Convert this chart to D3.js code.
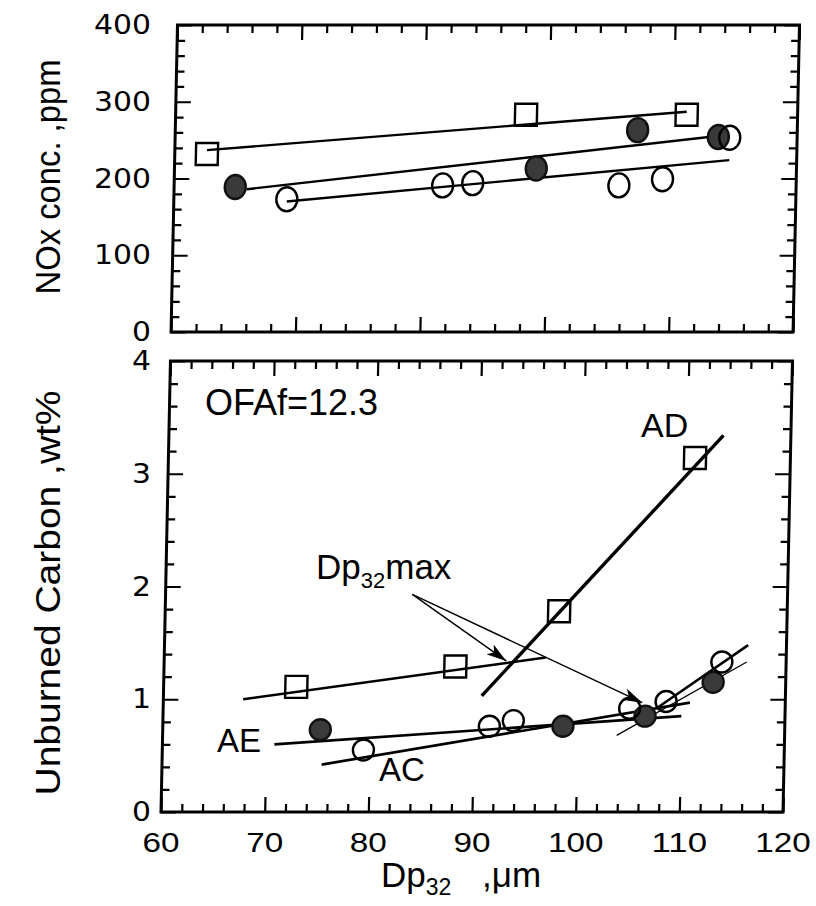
<!DOCTYPE html>
<html>
<head>
<meta charset="utf-8">
<script src="https://cdn.jsdelivr.net/npm/d3@7"></script>
<style>
  body { margin: 0; background: #fff; }
  svg { display: block; }
  text { font-family: "Liberation Sans", Arial, sans-serif; fill: #000; }
</style>
</head>
<body>
<div id="chart"></div>
<script>
// ---- values ----
// top panel: NOx conc., ppm
const noxSquareDp = [63.1, 93.8, 109.3];
const noxSquare = [232, 283, 283];
const noxFilledDp = [65.9, 94.9, 104.6, 112.4];
const noxFilled = [189, 213, 263, 254];
const noxOpenDp = [70.9, 85.9, 88.8, 102.9, 107.1, 113.5];
const noxOpen = [173, 191, 194, 191, 199, 253];
const noxFits = [
  [[63.1, 237], [109.3, 287]],
  [[67.0, 186], [113.4, 257]],
  [[70.9, 170], [113.5, 224]]
];

// bottom panel: unburned carbon, wt%
const adDp = [72.8, 88.1, 98.0, 110.8];
const adUc = [1.11, 1.29, 1.78, 3.14];
const aeDp = [75.2, 98.6, 106.5, 113.0];
const aeUc = [0.73, 0.76, 0.85, 1.15];
const acDp = [79.4, 91.5, 93.8, 105.0, 108.5, 113.8];
const acUc = [0.55, 0.76, 0.81, 0.92, 0.98, 1.33];
const ucFits = [
  {a: [67.7, 1.00], b: [96.8, 1.37], w: 2.6},   // AD, below max
  {a: [90.7, 1.03], b: [113.5, 3.34], w: 3.4},  // AD, above max
  {a: [70.8, 0.60], b: [110.0, 0.85], w: 2.6},  // AE
  {a: [75.4, 0.42], b: [110.8, 0.97], w: 2.6},  // AC
  {a: [103.8, 0.68], b: [116.2, 1.33], w: 1.3}, // AE, above max
  {a: [107.6, 0.92], b: [116.3, 1.48], w: 2.6}  // AC, above max
];
const maxFrom = [83.8, 1.93];
const maxTo = [[93.0, 1.34], [106.2, 0.97]];

const dpTicks = [60, 70, 80, 90, 100, 110, 120];
const noxXTicks = [60, 72, 84, 96, 108, 120];  // top frame is ticked on its own spacing
const noxTicks = [0, 100, 200, 300, 400];
const ucTicks = [0, 1, 2, 3, 4];

function minors(major) {
  const out = [];
  for (let i = 0; i < major.length - 1; i++) {
    const step = (major[i + 1] - major[i]) / 5;
    for (let k = 1; k < 5; k++) out.push(major[i] + k * step);
  }
  return out;
}

const x = d3.scaleLinear().domain([60, 120]).range([161, 783]);
const yNox = d3.scaleLinear().domain([0, 400]).range([332, 25]);
const yUc = d3.scaleLinear().domain([0, 4]).range([812, 361]);

const svg = d3.select("#chart").append("svg")
  .attr("width", 816)
  .attr("height", 906);

svg.append("defs").append("marker")
  .attr("id", "head")
  .attr("markerUnits", "userSpaceOnUse")
  .attr("markerWidth", 22).attr("markerHeight", 12)
  .attr("refX", 20).attr("refY", 6)
  .attr("orient", "auto")
  .append("path")
  .attr("d", "M0,0 L20,6 L0,12 L5,6 Z")
  .attr("fill", "#000");

// the scanned frames lean slightly, so the plotting layer is sheared a little
const plot = svg.append("g")
  .attr("transform", "translate(0,812) skewX(-1.2) translate(0,-812)");

function frame(y, xt, yt) {
  const g = plot.append("g");
  const [yb, yt0] = y.range();
  const sides = [
    [() => d3.axisBottom(x), `translate(0,${yb})`, xt],
    [() => d3.axisTop(x), `translate(0,${yt0})`, xt],
    [() => d3.axisLeft(y), `translate(${x(60)},0)`, yt],
    [() => d3.axisRight(y), `translate(${x(120)},0)`, yt]
  ];
  sides.forEach(([mk, tr, major]) => {
    [[major, 15], [minors(major), 8]].forEach(([vals, len]) => {
      g.append("g").attr("transform", tr)
        .call(mk().tickValues(vals).tickSize(-len).tickFormat(""))
        .call(s => s.select(".domain").remove())
        .selectAll("line").attr("stroke", "#000").attr("stroke-width", 2.2);
    });
  });
  g.append("rect")
    .attr("x", x(60)).attr("y", yt0)
    .attr("width", x(120) - x(60)).attr("height", yb - yt0)
    .attr("fill", "none").attr("stroke", "#000").attr("stroke-width", 3);
}

frame(yNox, noxXTicks, noxTicks);
frame(yUc, dpTicks, ucTicks);

function fitLine(a, b, y, w) {
  plot.append("line")
    .attr("x1", x(a[0])).attr("y1", y(a[1]))
    .attr("x2", x(b[0])).attr("y2", y(b[1]))
    .attr("stroke", "#000").attr("stroke-width", w);
}
noxFits.forEach(f => fitLine(f[0], f[1], yNox, 2.4));
ucFits.forEach(f => fitLine(f.a, f.b, yUc, f.w));

function squares(xs, ys, y) {
  plot.append("g").selectAll("rect")
    .data(d3.zip(xs, ys))
    .join("rect")
    .attr("x", d => x(d[0]) - 11).attr("y", d => y(d[1]) - 11)
    .attr("width", 22).attr("height", 22)
    .attr("fill", "none").attr("stroke", "#000").attr("stroke-width", 2.4);
}
function rings(xs, ys, y, filled, ry) {
  plot.append("g").selectAll("ellipse")
    .data(d3.zip(xs, ys))
    .join("ellipse")
    .attr("cx", d => x(d[0])).attr("cy", d => y(d[1]))
    .attr("rx", 10.5).attr("ry", ry)
    .attr("fill", filled ? "#3a3a3a" : "none")
    .attr("stroke", filled ? "#111" : "#000").attr("stroke-width", 2.4);
}

squares(noxSquareDp, noxSquare, yNox);
rings(noxFilledDp, noxFilled, yNox, true, 12);
rings(noxOpenDp, noxOpen, yNox, false, 12);

squares(adDp, adUc, yUc);
rings(aeDp, aeUc, yUc, true, 10.5);
rings(acDp, acUc, yUc, false, 10.5);

maxTo.forEach(t => {
  plot.append("line")
    .attr("x1", x(maxFrom[0])).attr("y1", yUc(maxFrom[1]))
    .attr("x2", x(t[0])).attr("y2", yUc(t[1]))
    .attr("stroke", "#000").attr("stroke-width", 1.4)
    .attr("marker-end", "url(#head)");
});

// ---- tick labels ----
svg.append("g").selectAll("text")
  .data(noxTicks).join("text")
  .attr("x", 151).attr("y", d => yNox(d) + 9)
  .attr("text-anchor", "end")
  .style("font-family", "DejaVu Sans").style("font-size", "26px")
  .attr("textLength", d => String(d).length * 19)
  .attr("lengthAdjust", "spacingAndGlyphs")
  .text(d => d);

svg.append("g").selectAll("text")
  .data(ucTicks).join("text")
  .attr("x", 151).attr("y", d => yUc(d) + 9)
  .attr("text-anchor", "end")
  .style("font-family", "DejaVu Sans").style("font-size", "26px")
  .attr("textLength", 19)
  .attr("lengthAdjust", "spacingAndGlyphs")
  .text(d => d);

svg.append("g").selectAll("text")
  .data(dpTicks).join("text")
  .attr("x", d => x(d)).attr("y", 852)
  .attr("text-anchor", "middle")
  .style("font-size", "28px")
  .attr("textLength", d => String(d).length * 18.5)
  .attr("lengthAdjust", "spacingAndGlyphs")
  .text(d => d);

// ---- axis titles ----
svg.append("text")
  .attr("transform", "translate(60,177) rotate(-90)")
  .attr("text-anchor", "middle")
  .style("font-size", "35px")
  .attr("textLength", 235).attr("lengthAdjust", "spacingAndGlyphs")
  .text("NOx conc. ,ppm");

svg.append("text")
  .attr("transform", "translate(60,593) rotate(-90)")
  .attr("text-anchor", "middle")
  .style("font-size", "35px")
  .attr("textLength", 405).attr("lengthAdjust", "spacingAndGlyphs")
  .text("Unburned Carbon ,wt%");

const xt = svg.append("text").attr("x", 381).attr("y", 887).style("font-size", "35px");
xt.append("tspan").text("Dp");
xt.append("tspan").attr("dy", 8).style("font-size", "23px").text("32");
xt.append("tspan").attr("x", 482).attr("dy", -8).text(",\u03bcm");

// ---- annotations ----
svg.append("text").attr("x", 205).attr("y", 415).style("font-size", "36px")
  .text("OFAf=12.3");
svg.append("text").attr("x", 641).attr("y", 437).style("font-size", "34px").text("AD");
svg.append("text").attr("x", 217).attr("y", 752).style("font-size", "33px").text("AE");
svg.append("text").attr("x", 379).attr("y", 781).style("font-size", "33px").text("AC");

const mx = svg.append("text").attr("x", 316).attr("y", 579).style("font-size", "35px");
mx.append("tspan").text("Dp");
mx.append("tspan").attr("dy", 9).style("font-size", "22px").text("32");
mx.append("tspan").attr("dy", -9).text("max");
</script>
</body>
</html>
